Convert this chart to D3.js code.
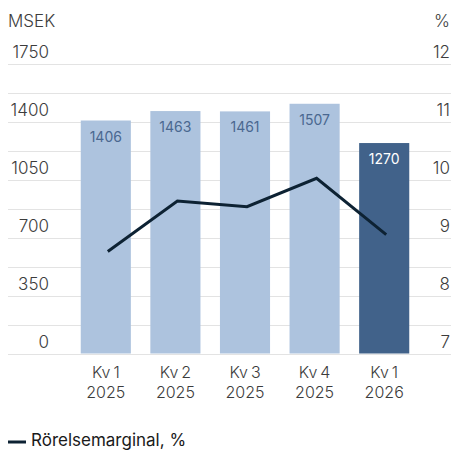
<!DOCTYPE html>
<html>
<head>
<meta charset="utf-8">
<script src="https://cdn.jsdelivr.net/npm/d3@7"></script>
<style>
  body { margin: 0; background: #fff; }
  svg text { font-family: Inter, "Noto Sans", sans-serif; }
</style>
</head>
<body>
<div id="chart"></div>
<script>
var quarters = ["Kv\u20091", "Kv\u20092", "Kv\u20093", "Kv\u20094", "Kv\u20091"];
var years = ["2025", "2025", "2025", "2025", "2026"];
var sales = [1406, 1463, 1461, 1507, 1270];
var margin = [8.76, 9.63, 9.53, 10.02, 9.05];
var leftTicks = [0, 350, 700, 1050, 1400, 1750];
var rightTicks = [7, 8, 9, 10, 11, 12];

var width = 452, height = 450;

var svg = d3.select("#chart")
    .append("svg")
    .attr("width", width)
    .attr("height", height);

var x = d3.scaleBand()
    .domain(d3.range(sales.length))
    .range([71, 419])
    .paddingInner(0.28)
    .paddingOuter(0.14);

var y = d3.scaleLinear().domain([0, 1750]).range([353.5, 63.5]);
var y2 = d3.scaleLinear().domain([7, 12]).range([353.5, 63.5]);

// gridlines every 175
svg.append("g")
    .selectAll("line")
    .data(d3.range(0, 1751, 175))
    .enter().append("line")
    .attr("x1", 8)
    .attr("x2", 451)
    .attr("y1", function (d) { return Math.round(y(d)) + 0.5; })
    .attr("y2", function (d) { return Math.round(y(d)) + 0.5; })
    .style("stroke", "#e3e3e3")
    .style("stroke-width", 1);

function styleAxis(g) {
    g.select(".domain").remove();
    g.selectAll("text")
        .attr("dy", "-6")
        .style("font-size", "17px")
        .style("font-weight", 300)
        .style("fill", "#3c3c3c");
}

// left axis
svg.append("g")
    .attr("transform", "translate(49,0)")
    .call(d3.axisLeft(y).tickValues(leftTicks).tickFormat(d3.format("d")).tickSize(0).tickPadding(0))
    .call(styleAxis);

// right axis
svg.append("g")
    .attr("transform", "translate(450,0)")
    .call(d3.axisLeft(y2).tickValues(rightTicks).tickFormat(d3.format("d")).tickSize(0).tickPadding(0))
    .call(styleAxis);

svg.append("text")
    .attr("x", 8).attr("y", 27)
    .text("MSEK")
    .style("font-size", "17px").style("font-weight", 300).style("fill", "#3c3c3c");

svg.append("text")
    .attr("x", 450).attr("y", 27)
    .attr("text-anchor", "end")
    .text("%")
    .style("font-size", "17px").style("font-weight", 300).style("fill", "#3c3c3c");

// bars
svg.append("g")
    .selectAll("rect")
    .data(sales)
    .enter().append("rect")
    .attr("x", function (d, i) { return x(i); })
    .attr("y", function (d) { return y(d); })
    .attr("width", x.bandwidth())
    .attr("height", function (d) { return y(0) - y(d); })
    .style("fill", function (d, i) { return i === sales.length - 1 ? "#41628a" : "#adc3de"; });

svg.append("g")
    .selectAll("text")
    .data(sales)
    .enter().append("text")
    .attr("x", function (d, i) { return x(i) + x.bandwidth() / 2; })
    .attr("y", function (d) { return y(d) + 21; })
    .attr("text-anchor", "middle")
    .text(function (d) { return d; })
    .style("font-size", "14px")
    .style("fill", function (d, i) { return i === sales.length - 1 ? "#ffffff" : "#4a6890"; });

// margin line
var line = d3.line()
    .x(function (d, i) { return x(i) + x.bandwidth() / 2 + 2; })
    .y(function (d) { return y2(d); });

svg.append("path")
    .datum(margin)
    .attr("d", line)
    .style("fill", "none")
    .style("stroke", "#0d2233")
    .style("stroke-width", 3);

// x labels
var xl = svg.append("g")
    .selectAll("text")
    .data(quarters)
    .enter().append("text")
    .attr("x", function (d, i) { return x(i) + x.bandwidth() / 2; })
    .attr("text-anchor", "middle")
    .style("font-size", "16px")
    .style("font-weight", 300)
    .style("fill", "#3c3c3c");
xl.append("tspan").attr("x", function (d, i) { return x(i) + x.bandwidth() / 2; })
    .attr("y", 378).text(function (d) { return d; });
xl.append("tspan").attr("x", function (d, i) { return x(i) + x.bandwidth() / 2; })
    .attr("y", 398).text(function (d, i) { return years[i]; });

// legend
svg.append("line")
    .attr("x1", 8).attr("x2", 26)
    .attr("y1", 442).attr("y2", 442)
    .style("stroke", "#0d2233")
    .style("stroke-width", 3);

svg.append("text")
    .attr("x", 31).attr("y", 446)
    .text("Rörelsemarginal, %")
    .style("font-size", "17px")
    .style("fill", "#1a1a1a");
</script>
</body>
</html>
